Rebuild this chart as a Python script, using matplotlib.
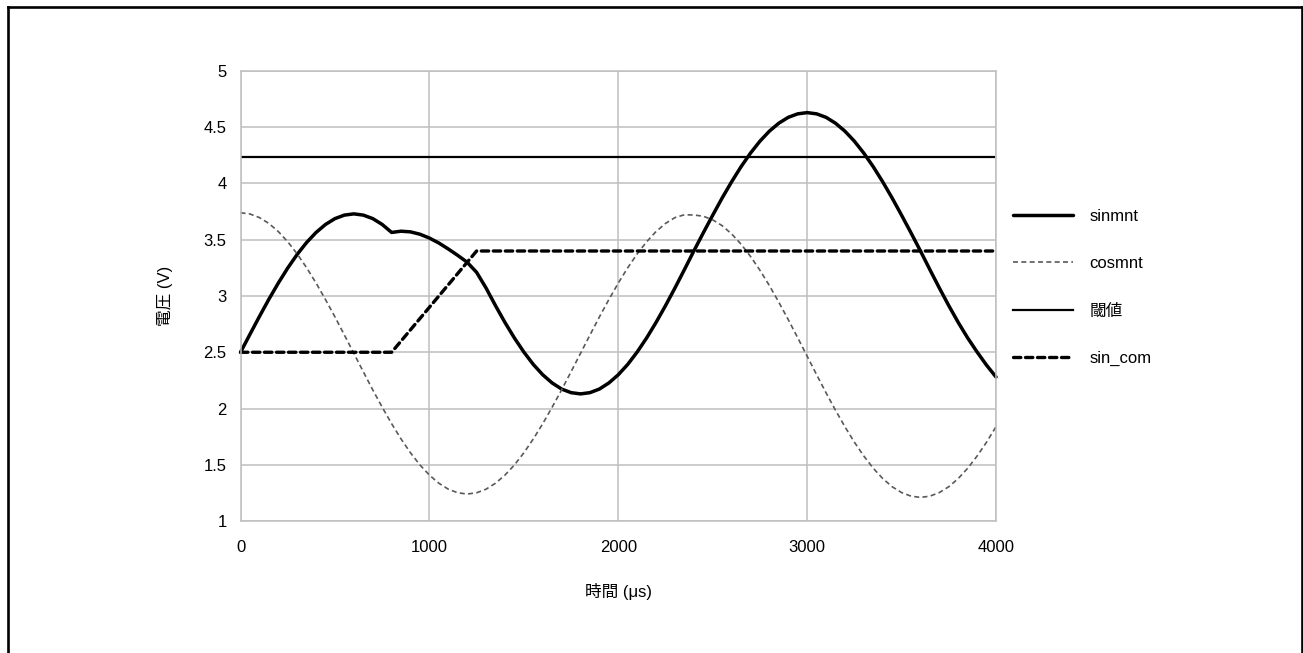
import numpy as np
import matplotlib
matplotlib.use("Agg")
import matplotlib.pyplot as plt
from matplotlib.lines import Line2D

plt.rcParams['font.family'] = ['Liberation Sans', 'Noto Sans CJK JP', 'DejaVu Sans']

# time axis (μs), 50 μs sampling
time_us = np.arange(0, 4001, 50)

sinmnt = [
    2.500, 2.660, 2.818, 2.971, 3.115, 3.249, 3.370, 3.476, 3.565, 3.636,
    3.688, 3.719, 3.730, 3.719, 3.688, 3.636, 3.565, 3.576, 3.570, 3.549,
    3.515, 3.471, 3.418, 3.361, 3.300, 3.210, 3.071, 2.914, 2.765, 2.627,
    2.502, 2.392, 2.300, 2.227, 2.173, 2.141, 2.130, 2.141, 2.173, 2.227,
    2.300, 2.392, 2.502, 2.627, 2.765, 2.914, 3.071, 3.234, 3.400, 3.561,
    3.718, 3.871, 4.015, 4.149, 4.270, 4.376, 4.465, 4.536, 4.588, 4.619,
    4.630, 4.619, 4.588, 4.536, 4.465, 4.376, 4.270, 4.149, 4.015, 3.871,
    3.718, 3.561, 3.400, 3.234, 3.071, 2.914, 2.765, 2.627, 2.502, 2.385,
    2.280,
]

cosmnt = [
    3.740, 3.729, 3.697, 3.645, 3.573, 3.482, 3.374, 3.251, 3.115, 2.968,
    2.814, 2.653, 2.490, 2.327, 2.166, 2.012, 1.865, 1.729, 1.606, 1.498,
    1.408, 1.336, 1.283, 1.251, 1.240, 1.251, 1.283, 1.336, 1.408, 1.498,
    1.606, 1.729, 1.865, 2.012, 2.166, 2.327, 2.490, 2.653, 2.814, 2.968,
    3.115, 3.251, 3.374, 3.482, 3.573, 3.645, 3.697, 3.722, 3.720, 3.709,
    3.677, 3.625, 3.552, 3.461, 3.352, 3.229, 3.093, 2.945, 2.790, 2.629,
    2.465, 2.301, 2.140, 1.985, 1.838, 1.701, 1.578, 1.469, 1.378, 1.305,
    1.253, 1.221, 1.210, 1.221, 1.253, 1.305, 1.378, 1.469, 1.578, 1.701,
    1.838,
]

# sin_com breakpoints
sincom_t = [0, 800, 1250, 4000]
sincom_v = [2.5, 2.5, 3.4, 3.4]

# threshold level
threshold = 4.235

x_ticks = [0, 1000, 2000, 3000, 4000]
y_ticks = [1, 1.5, 2, 2.5, 3, 3.5, 4, 4.5, 5]
y_ticklabels = ['1', '1.5', '2', '2.5', '3', '3.5', '4', '4.5', '5']

fig = plt.figure(figsize=(13.03, 6.53), dpi=100)
ax = fig.add_axes([0.1846, 0.2021, 0.5798, 0.6892])

grid_col = '#BFBFBF'
ax.set_xlim(0, 4000)
ax.set_ylim(1, 5)
ax.set_xticks(x_ticks)
ax.set_yticks(y_ticks)
ax.set_yticklabels(y_ticklabels)
ax.grid(True, color=grid_col, linewidth=1.1)
ax.set_axisbelow(True)
for s in ax.spines.values():
    s.set_color(grid_col)
    s.set_linewidth(1.1)
ax.tick_params(length=0, labelsize=12, colors='black')
ax.tick_params(axis='x', pad=14)
ax.tick_params(axis='y', pad=10)

l1, = ax.plot(time_us, sinmnt, color='black', linewidth=2.5,
              solid_capstyle='round', solid_joinstyle='round', clip_on=False,
              label='sinmnt')
l2, = ax.plot(time_us, cosmnt, color='#595959', linewidth=1.2,
              linestyle=(0, (3, 2)), clip_on=False, label='cosmnt')
l3 = ax.axhline(threshold, xmin=0, xmax=0.997, color='black', linewidth=1.6,
                label='閾値')
l4, = ax.plot(sincom_t, sincom_v, color='black', linewidth=2.4,
              linestyle=(0, (2.2, 1.4)), dash_capstyle='round', clip_on=False,
              label='sin_com')

ax.set_xlabel('時間 (μs)', fontsize=12, labelpad=20)
ax.set_ylabel('電圧 (V)', fontsize=12, labelpad=22)

fig.legend(handles=[l1, l2, l3, l4], loc='center left',
           bbox_to_anchor=(0.7774, 0.5598), frameon=False, fontsize=12,
           handlelength=3.6, handletextpad=1.0, labelspacing=1.93,
           borderpad=0, borderaxespad=0)

# outer frame (left, top, right)
border = dict(color='black', linewidth=1.9, solid_capstyle='projecting')
fig.add_artist(Line2D([0.00614, 0.00614], [0.0, 0.9893], transform=fig.transFigure, **border))
fig.add_artist(Line2D([0.00614, 0.99885], [0.9893, 0.9893], transform=fig.transFigure, **border))
fig.add_artist(Line2D([0.99885, 0.99885], [0.0, 0.9893], transform=fig.transFigure, **border))

fig.savefig('out.png', dpi=100, facecolor='white')
